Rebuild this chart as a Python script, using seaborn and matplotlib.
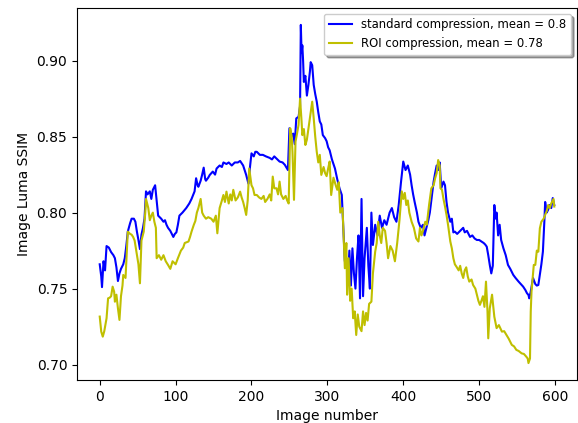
import matplotlib
matplotlib.use("Agg")
import matplotlib.pyplot as plt
import seaborn as sns
import pandas as pd

std_x = [0, 2, 3, 5, 7, 9, 12, 15, 18, 20, 22, 24, 26, 28, 31, 33, 35, 37, 40, 42, 45, 47, 49, 51, 53, 55, 57, 59, 61, 63, 66, 68, 70, 73, 75, 77, 79, 81, 84, 86, 88, 90, 93, 97, 99, 101, 103, 105, 109, 114, 118, 121, 125, 127, 129, 130, 133, 135, 137, 139, 140, 143, 145, 149, 152, 154, 158, 161, 163, 167, 170, 174, 178, 182, 185, 189, 191, 193, 196, 198, 200, 203, 205, 207, 211, 215, 219, 224, 227, 230, 234, 237, 241, 244, 248, 250, 253, 255, 257, 259, 262, 264, 265, 266, 267, 268, 269, 271, 273, 275, 277, 278, 280, 282, 284, 286, 288, 290, 292, 294, 297, 299, 301, 303, 306, 310, 313, 316, 319, 321, 323, 325, 327, 329, 331, 333, 335, 337, 339, 341, 343, 345, 347, 349, 352, 354, 356, 358, 360, 363, 366, 369, 372, 375, 378, 382, 385, 388, 391, 394, 397, 400, 403, 406, 409, 411, 413, 415, 418, 420, 423, 426, 428, 430, 433, 435, 438, 440, 442, 444, 446, 448, 450, 453, 455, 457, 459, 462, 464, 466, 468, 471, 474, 477, 479, 481, 484, 486, 488, 491, 494, 497, 500, 503, 506, 508, 510, 512, 514, 516, 518, 520, 522, 523, 525, 527, 529, 532, 535, 538, 541, 545, 548, 552, 555, 558, 561, 563, 565, 566, 568, 571, 574, 576, 578, 580, 582, 584, 586, 587, 589, 591, 593, 595, 597, 599]
std_y = [0.766, 0.758, 0.751, 0.768, 0.762, 0.778, 0.777, 0.774, 0.772, 0.770, 0.764, 0.755, 0.760, 0.763, 0.766, 0.770, 0.778, 0.7875, 0.793, 0.796, 0.796, 0.794, 0.7875, 0.782, 0.776, 0.7855, 0.790, 0.796, 0.814, 0.812, 0.814, 0.809, 0.815, 0.818, 0.808, 0.798, 0.797, 0.796, 0.794, 0.795, 0.792, 0.790, 0.788, 0.784, 0.786, 0.787, 0.792, 0.798, 0.800, 0.803, 0.806, 0.809, 0.814, 0.8226, 0.818, 0.817, 0.821, 0.825, 0.8296, 0.822, 0.821, 0.823, 0.8248, 0.827, 0.825, 0.829, 0.831, 0.830, 0.833, 0.832, 0.833, 0.831, 0.833, 0.833, 0.834, 0.831, 0.828, 0.8248, 0.819, 0.830, 0.839, 0.837, 0.840, 0.840, 0.838, 0.838, 0.837, 0.836, 0.835, 0.837, 0.835, 0.8336, 0.833, 0.8314, 0.828, 0.8555, 0.850, 0.852, 0.845, 0.862, 0.863, 0.870, 0.9235, 0.905, 0.910, 0.900, 0.886, 0.890, 0.877, 0.884, 0.893, 0.899, 0.897, 0.884, 0.878, 0.873, 0.866, 0.860, 0.858, 0.851, 0.849, 0.847, 0.843, 0.841, 0.835, 0.829, 0.822, 0.816, 0.8116, 0.790, 0.768, 0.770, 0.756, 0.775, 0.752, 0.7765, 0.760, 0.750, 0.770, 0.785, 0.7436, 0.809, 0.745, 0.770, 0.790, 0.765, 0.750, 0.800, 0.7787, 0.792, 0.785, 0.798, 0.790, 0.795, 0.792, 0.800, 0.803, 0.797, 0.794, 0.805, 0.820, 0.8336, 0.828, 0.831, 0.825, 0.818, 0.812, 0.807, 0.800, 0.794, 0.790, 0.792, 0.785, 0.789, 0.795, 0.800, 0.812, 0.8204, 0.826, 0.831, 0.828, 0.833, 0.816, 0.8204, 0.818, 0.807, 0.800, 0.794, 0.796, 0.787, 0.7875, 0.786, 0.7875, 0.789, 0.790, 0.787, 0.788, 0.786, 0.784, 0.785, 0.783, 0.782, 0.782, 0.781, 0.780, 0.779, 0.7776, 0.772, 0.7656, 0.760, 0.765, 0.805, 0.796, 0.800, 0.785, 0.792, 0.782, 0.7765, 0.772, 0.7656, 0.763, 0.759, 0.757, 0.7546, 0.753, 0.7513, 0.749, 0.747, 0.7458, 0.7436, 0.748, 0.757, 0.753, 0.752, 0.7524, 0.759, 0.766, 0.7743, 0.795, 0.807, 0.800, 0.802, 0.805, 0.803, 0.8096, 0.805]

roi_x = [0, 2, 4, 6, 9, 11, 13, 15, 17, 19, 20, 22, 24, 26, 28, 30, 31, 34, 37, 40, 42, 44, 46, 49, 51, 53, 55, 58, 60, 61, 64, 66, 68, 70, 72, 74, 75, 78, 81, 84, 87, 90, 93, 96, 100, 103, 107, 110, 112, 117, 119, 121, 124, 126, 128, 130, 133, 135, 137, 140, 143, 147, 150, 153, 155, 158, 161, 163, 165, 167, 170, 172, 174, 176, 179, 182, 185, 187, 189, 191, 193, 195, 197, 200, 202, 204, 207, 210, 213, 216, 218, 221, 224, 226, 228, 230, 233, 235, 237, 239, 242, 245, 247, 249, 251, 253, 254, 256, 258, 260, 262, 264, 266, 267, 269, 271, 273, 275, 277, 280, 282, 284, 286, 288, 290, 292, 295, 297, 299, 301, 303, 305, 308, 311, 313, 315, 317, 320, 323, 325, 326, 328, 330, 332, 334, 336, 338, 340, 342, 345, 347, 349, 351, 353, 355, 358, 360, 363, 365, 367, 369, 371, 373, 376, 378, 380, 383, 386, 389, 392, 395, 398, 400, 402, 404, 406, 408, 411, 414, 417, 420, 422, 424, 426, 429, 431, 434, 437, 440, 442, 444, 446, 448, 449, 451, 453, 455, 457, 459, 462, 464, 466, 468, 470, 473, 475, 477, 479, 481, 483, 485, 487, 490, 492, 495, 497, 499, 501, 503, 505, 507, 509, 511, 512, 514, 517, 520, 523, 526, 530, 533, 536, 539, 543, 546, 549, 552, 556, 559, 562, 564, 565, 567, 568, 569, 572, 574, 576, 578, 580, 582, 585, 587, 589, 591, 593, 595, 598, 599]
roi_y = [0.7316, 0.7217, 0.7184, 0.722, 0.7305, 0.7436, 0.744, 0.745, 0.7513, 0.748, 0.7414, 0.746, 0.737, 0.7294, 0.745, 0.752, 0.759, 0.757, 0.7875, 0.786, 0.7855, 0.784, 0.7816, 0.772, 0.766, 0.7535, 0.7816, 0.7875, 0.800, 0.809, 0.803, 0.795, 0.798, 0.800, 0.794, 0.790, 0.770, 0.772, 0.769, 0.772, 0.768, 0.7656, 0.763, 0.768, 0.766, 0.770, 0.775, 0.777, 0.780, 0.781, 0.784, 0.7875, 0.792, 0.7945, 0.800, 0.803, 0.809, 0.800, 0.798, 0.796, 0.797, 0.796, 0.794, 0.798, 0.7864, 0.803, 0.808, 0.8116, 0.807, 0.8138, 0.806, 0.812, 0.808, 0.815, 0.808, 0.810, 0.8138, 0.810, 0.807, 0.803, 0.7985, 0.808, 0.829, 0.818, 0.816, 0.8116, 0.8116, 0.810, 0.809, 0.811, 0.807, 0.809, 0.812, 0.808, 0.8237, 0.816, 0.816, 0.812, 0.8204, 0.812, 0.809, 0.811, 0.808, 0.806, 0.8555, 0.850, 0.840, 0.8084, 0.8467, 0.852, 0.8577, 0.875, 0.860, 0.851, 0.855, 0.8445, 0.848, 0.855, 0.862, 0.873, 0.862, 0.850, 0.840, 0.833, 0.838, 0.8248, 0.830, 0.826, 0.824, 0.829, 0.8336, 0.8116, 0.823, 0.818, 0.815, 0.820, 0.800, 0.803, 0.7634, 0.780, 0.746, 0.770, 0.742, 0.750, 0.7305, 0.735, 0.7195, 0.733, 0.725, 0.722, 0.735, 0.726, 0.734, 0.729, 0.740, 0.7414, 0.760, 0.7743, 0.780, 0.794, 0.785, 0.780, 0.790, 0.788, 0.780, 0.770, 0.778, 0.775, 0.768, 0.780, 0.795, 0.814, 0.809, 0.813, 0.805, 0.808, 0.800, 0.794, 0.790, 0.783, 0.781, 0.790, 0.785, 0.788, 0.794, 0.792, 0.805, 0.816, 0.818, 0.8226, 0.826, 0.8346, 0.831, 0.816, 0.815, 0.809, 0.804, 0.7985, 0.792, 0.781, 0.7765, 0.770, 0.766, 0.7645, 0.762, 0.765, 0.760, 0.757, 0.762, 0.764, 0.758, 0.7546, 0.756, 0.7524, 0.750, 0.746, 0.742, 0.7393, 0.742, 0.745, 0.738, 0.7546, 0.735, 0.7173, 0.737, 0.746, 0.7315, 0.724, 0.726, 0.7217, 0.722, 0.7195, 0.717, 0.713, 0.712, 0.7097, 0.709, 0.7074, 0.707, 0.7053, 0.704, 0.701, 0.704, 0.735, 0.748, 0.7656, 0.7656, 0.775, 0.7743, 0.7897, 0.794, 0.796, 0.7985, 0.801, 0.805, 0.803, 0.806, 0.809, 0.804]

std_label = "standard compression, mean = 0.8"
roi_label = "ROI compression, mean = 0.78"
x_label = "Image number"
y_label = "Image Luma SSIM"

plt.rcParams['font.family'] = ['DejaVu Sans']
fig = plt.figure(figsize=(5.78, 4.23), dpi=100)
ax = fig.add_axes([77 / 578, 1 - 380 / 423, 500 / 578, 372 / 423])

df_std = pd.DataFrame({"x": std_x, "y": std_y})
df_roi = pd.DataFrame({"x": roi_x, "y": roi_y})
sns.lineplot(data=df_std, x="x", y="y", ax=ax, color="b", label=std_label,
             estimator=None, sort=False, linewidth=1.5)
sns.lineplot(data=df_roi, x="x", y="y", ax=ax, color="y", label=roi_label,
             estimator=None, sort=False, linewidth=1.5)

ax.set_xlabel(x_label)
ax.set_ylabel(y_label)
ax.legend(loc="upper right", shadow=True, fontsize=8.4)

fig.savefig("out.png", dpi=100)
